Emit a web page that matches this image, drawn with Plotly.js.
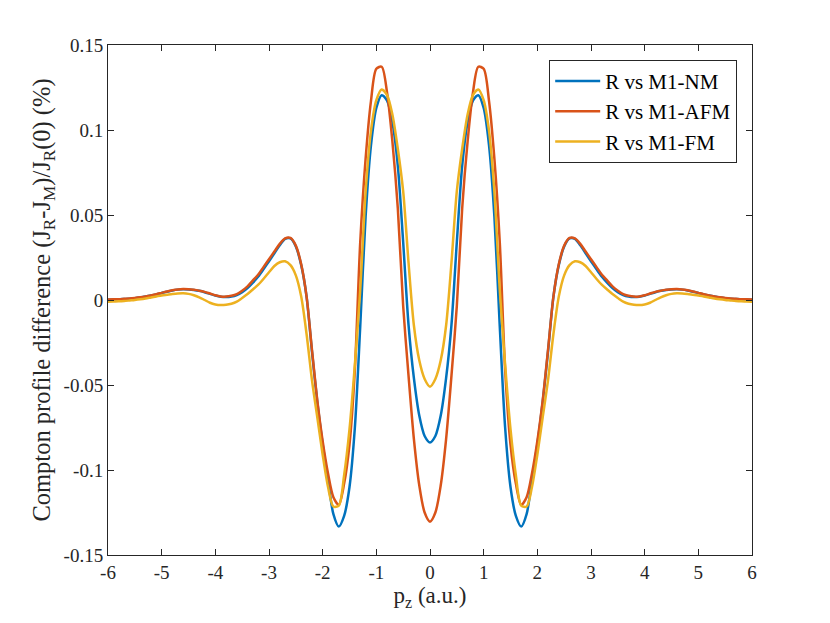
<!DOCTYPE html>
<html>
<head>
<meta charset="utf-8">
<script src="https://cdn.plot.ly/plotly-3.0.1.min.js"></script>
<style>
  body { margin: 0; background: #fff; }
  #divPlot { width: 830px; height: 623px; }
</style>
</head>
<body>
<div id="divPlot"></div>
<script>
/* Momentum grid p_z (a.u.) */
var pz = [-6.0,-5.9,-5.8,-5.7,-5.6,-5.5,-5.4,-5.3,-5.2,-5.1,
  -5.0,-4.9,-4.8,-4.7,-4.6,-4.5,-4.4,-4.3,-4.2,-4.1,
  -4.0,-3.9,-3.8,-3.7,-3.6,-3.5,-3.4,-3.3,-3.2,-3.1,
  -3.0,-2.9,-2.8,-2.7,-2.6,-2.5,-2.4,-2.3,-2.2,-2.1,
  -2.0,-1.9,-1.8,-1.7,-1.6,-1.5,-1.4,-1.3,-1.2,-1.1,
  -1.0,-0.9,-0.8,-0.7,-0.6,-0.5,-0.4,-0.3,-0.2,-0.1,
  0.0,0.1,0.2,0.3,0.4,0.5,0.6,0.7,0.8,0.9,
  1.0,1.1,1.2,1.3,1.4,1.5,1.6,1.7,1.8,1.9,
  2.0,2.1,2.2,2.3,2.4,2.5,2.6,2.7,2.8,2.9,
  3.0,3.1,3.2,3.3,3.4,3.5,3.6,3.7,3.8,3.9,
  4.0,4.1,4.2,4.3,4.4,4.5,4.6,4.7,4.8,4.9,
  5.0,5.1,5.2,5.3,5.4,5.5,5.6,5.7,5.8,5.9,6.0];

// R vs M1-NM
var diffNM = [0.0002,0.0003,0.0004,0.0006,0.0008,0.0011,0.0015,0.0020,0.0026,0.0033,
  0.0041,0.0049,0.0056,0.0061,0.0063,0.0062,0.0059,0.0054,0.0046,0.0036,
  0.0026,0.0019,0.0017,0.0020,0.0029,0.0046,0.0070,0.0102,0.0138,0.0182,
  0.0228,0.0275,0.0322,0.0360,0.0362,0.0315,0.0205,0.0020,-0.0300,-0.0600,
  -0.0850,-0.1060,-0.1260,-0.1333,-0.1270,-0.1100,-0.0750,-0.0155,0.0490,0.0910,
  0.1130,0.1205,0.1172,0.1045,0.0790,0.0340,-0.0146,-0.0460,-0.0680,-0.0800,
  -0.0838,-0.0800,-0.0680,-0.0460,-0.0146,0.0340,0.0790,0.1045,0.1172,0.1205,
  0.1130,0.0910,0.0490,-0.0155,-0.0750,-0.1100,-0.1270,-0.1333,-0.1260,-0.1060,
  -0.0850,-0.0600,-0.0300,0.0020,0.0205,0.0315,0.0362,0.0360,0.0322,0.0275,
  0.0228,0.0182,0.0138,0.0102,0.0070,0.0046,0.0029,0.0020,0.0017,0.0019,
  0.0026,0.0036,0.0046,0.0054,0.0059,0.0062,0.0063,0.0061,0.0056,0.0049,
  0.0041,0.0033,0.0026,0.0020,0.0015,0.0011,0.0008,0.0006,0.0004,0.0003,0.0002];

// R vs M1-AFM
var diffAFM = [0.0003,0.0004,0.0005,0.0007,0.0009,0.0012,0.0016,0.0021,0.0027,0.0034,
  0.0042,0.0050,0.0057,0.0062,0.0064,0.0063,0.0060,0.0055,0.0048,0.0038,
  0.0028,0.0021,0.0020,0.0025,0.0035,0.0055,0.0080,0.0115,0.0150,0.0195,
  0.0240,0.0285,0.0330,0.0362,0.0365,0.0320,0.0210,0.0020,-0.0290,-0.0590,
  -0.0830,-0.1020,-0.1160,-0.1205,-0.1080,-0.0850,-0.0410,0.0340,0.0830,0.1170,
  0.1360,0.1372,0.1220,0.0930,0.0540,-0.0035,-0.0445,-0.0818,-0.1090,-0.1250,
  -0.1304,-0.1250,-0.1090,-0.0818,-0.0445,-0.0035,0.0540,0.0930,0.1220,0.1372,
  0.1360,0.1170,0.0830,0.0340,-0.0410,-0.0850,-0.1080,-0.1205,-0.1160,-0.1020,
  -0.0830,-0.0590,-0.0290,0.0020,0.0210,0.0320,0.0365,0.0362,0.0330,0.0285,
  0.0240,0.0195,0.0150,0.0115,0.0080,0.0055,0.0035,0.0025,0.0020,0.0021,
  0.0028,0.0038,0.0048,0.0055,0.0060,0.0063,0.0064,0.0062,0.0057,0.0050,
  0.0042,0.0034,0.0027,0.0021,0.0016,0.0012,0.0009,0.0007,0.0005,0.0004,0.0003];

// R vs M1-FM
var diffFM = [-0.0010,-0.0009,-0.0008,-0.0006,-0.0003,0.0000,0.0004,0.0009,0.0015,0.0021,
  0.0027,0.0031,0.0035,0.0038,0.0039,0.0036,0.0028,0.0016,0.0000,-0.0016,
  -0.0026,-0.0030,-0.0028,-0.0022,-0.0010,0.0012,0.0035,0.0062,0.0090,0.0125,
  0.0163,0.0200,0.0222,0.0228,0.0205,0.0145,0.0020,-0.0200,-0.0470,-0.0690,
  -0.0910,-0.1100,-0.1215,-0.1210,-0.1030,-0.0760,-0.0380,0.0060,0.0635,0.0995,
  0.1175,0.1238,0.1205,0.1090,0.0890,0.0640,0.0220,-0.0150,-0.0355,-0.0465,
  -0.0510,-0.0465,-0.0355,-0.0150,0.0220,0.0640,0.0890,0.1090,0.1205,0.1238,
  0.1175,0.0995,0.0635,0.0060,-0.0380,-0.0760,-0.1030,-0.1210,-0.1215,-0.1100,
  -0.0910,-0.0690,-0.0470,-0.0200,0.0020,0.0145,0.0205,0.0228,0.0222,0.0200,
  0.0163,0.0125,0.0090,0.0062,0.0035,0.0012,-0.0010,-0.0022,-0.0028,-0.0030,
  -0.0026,-0.0016,0.0000,0.0016,0.0028,0.0036,0.0039,0.0038,0.0035,0.0031,
  0.0027,0.0021,0.0015,0.0009,0.0004,0.0000,-0.0003,-0.0006,-0.0008,-0.0009,-0.0010];

var seriesNames = ['R vs M1-NM', 'R vs M1-AFM', 'R vs M1-FM'];

var xTickVals = [-6, -5, -4, -3, -2, -1, 0, 1, 2, 3, 4, 5, 6];
var xTickText = ['-6', '-5', '-4', '-3', '-2', '-1', '0', '1', '2', '3', '4', '5', '6'];
var yTickVals = [-0.15, -0.1, -0.05, 0, 0.05, 0.1, 0.15];
var yTickText = ['-0.15', '-0.1', '-0.05', '0', '0.05', '0.1', '0.15'];

var colors = ['#0072BD', '#D95319', '#EDB120'];
var serif = '"Liberation Serif", "Times New Roman", serif';
var axisCol = '#262626';

function mkTrace(y, i) {
  return {
    x : pz,
    y : y,
    type : 'scatter',
    mode : 'lines',
    name : seriesNames[i],
    line : {color : colors[i], width : 2.5, shape : 'spline', smoothing : 0.8}
  };
}

var data = [ mkTrace(diffNM, 0), mkTrace(diffAFM, 1), mkTrace(diffFM, 2) ];

var axisCommon = {
  showline : true,
  linecolor : axisCol,
  linewidth : 1,
  mirror : 'ticks',
  ticks : 'inside',
  ticklen : 6,
  tickwidth : 1,
  tickcolor : axisCol,
  showgrid : false,
  zeroline : false,
  tickfont : {family : serif, size : 19, color : axisCol}
};

var layout = {
  width : 830,
  height : 623,
  paper_bgcolor : '#fff',
  plot_bgcolor : '#fff',
  margin : {l : 108, r : 78, t : 45, b : 68},
  showlegend : true,
  xaxis : Object.assign({}, axisCommon, {
    range : [-6, 6],
    tickmode : 'array',
    tickvals : xTickVals,
    ticktext : xTickText,
    title : {text : 'p<sub>z</sub> (a.u.)', font : {family : serif, size : 23, color : axisCol}, standoff : 3}
  }),
  yaxis : Object.assign({}, axisCommon, {
    range : [-0.15, 0.15],
    tickmode : 'array',
    tickvals : yTickVals,
    ticktext : yTickText,
    title : {
      text : 'Compton profile difference (J<sub>R</sub>-J<sub>M</sub>)/J<sub>R</sub>(0) (%)',
      font : {family : serif, size : 24.5, color : axisCol},
      standoff : 6
    }
  }),
  legend : {
    x : 0.977,
    y : 0.971,
    xanchor : 'right',
    yanchor : 'top',
    bgcolor : '#fff',
    bordercolor : axisCol,
    borderwidth : 1,
    itemwidth : 45,
    tracegroupgap : 0,
    font : {family : serif, size : 21, color : '#000'}
  }
};

Plotly.newPlot('divPlot', data, layout, {staticPlot : true, displayModeBar : false});
</script>
</body>
</html>
